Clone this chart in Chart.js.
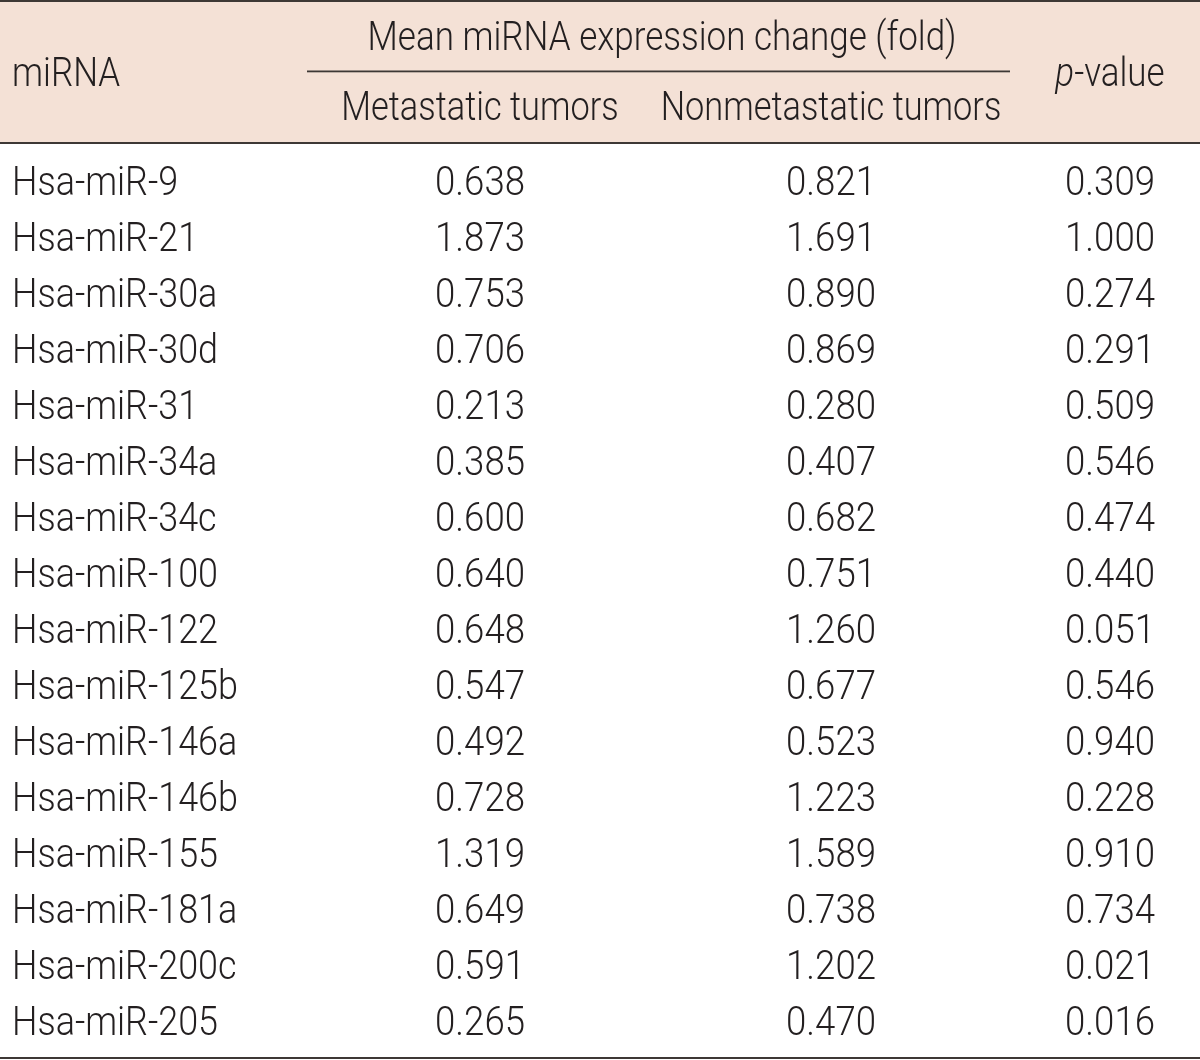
<!DOCTYPE html>
<html>
<head>
<meta charset="utf-8">
<script src="https://cdn.jsdelivr.net/npm/chart.js@4/dist/chart.umd.min.js"></script>
<style>
  html, body { margin: 0; padding: 0; background: #ffffff; }
  #wrap { width: 1200px; height: 1060px; position: relative; }
</style>
</head>
<body>
<div id="wrap"><canvas id="c"></canvas></div>
<script>
// ---- Data ----
const mirnas = ["Hsa-miR-9","Hsa-miR-21","Hsa-miR-30a","Hsa-miR-30d","Hsa-miR-31","Hsa-miR-34a","Hsa-miR-34c","Hsa-miR-100","Hsa-miR-122","Hsa-miR-125b","Hsa-miR-146a","Hsa-miR-146b","Hsa-miR-155","Hsa-miR-181a","Hsa-miR-200c","Hsa-miR-205"];
const metastatic = [0.638,1.873,0.753,0.706,0.213,0.385,0.600,0.640,0.648,0.547,0.492,0.728,1.319,0.649,0.591,0.265];
const nonmetastatic = [0.821,1.691,0.890,0.869,0.280,0.407,0.682,0.751,1.260,0.677,0.523,1.223,1.589,0.738,1.202,0.470];
const pValues = [0.309,1.000,0.274,0.291,0.509,0.546,0.474,0.440,0.051,0.546,0.940,0.228,0.910,0.734,0.021,0.016];
const headerGroup = "Mean miRNA expression change (fold)";
const headerRow = "miRNA";
const headerMet = "Metastatic tumors";
const headerNon = "Nonmetastatic tumors";
const headerP = "-value";

// ---- Style ----
const FONT = 'Roboto, "Liberation Sans", Arial, sans-serif';
const WEIGHT = '300';
const FS = 40;
const TEXT = '#231f20';
const HEADER_BG = '#f4e1d6';
const RULE = '#3d3835';

function setFont(ctx, italic) {
  ctx.font = (italic ? 'italic ' : '') + WEIGHT + ' ' + FS + 'px ' + FONT;
}
function rawW(ctx, str, italic) {
  ctx.save(); setFont(ctx, italic);
  const w = ctx.measureText(str).width;
  ctx.restore();
  return w;
}
function drawText(ctx, str, x, y, align, italic, sx) {
  ctx.save();
  ctx.translate(x, y);
  ctx.scale(sx, 1);
  setFont(ctx, italic);
  ctx.textAlign = align;
  ctx.textBaseline = 'alphabetic';
  ctx.fillStyle = TEXT;
  ctx.fillText(str, 0, 0);
  ctx.restore();
}

const tablePlugin = {
  id: 'tablePlugin',
  beforeDraw(chart) {
    const ctx = chart.ctx;
    const xs = chart.scales.x;
    const L = xs.getPixelForValue(0), R = xs.getPixelForValue(1200);
    ctx.save();
    ctx.fillStyle = HEADER_BG;
    ctx.fillRect(L, 2, R - L, 141);
    ctx.fillStyle = RULE;
    ctx.fillRect(L, 0, R - L, 2);
    ctx.fillRect(L, 142, R - L, 2);
    ctx.fillRect(L, 1057, R - L, 2);
    ctx.fillRect(xs.getPixelForValue(307), 70.5, xs.getPixelForValue(1010) - xs.getPixelForValue(307), 1.8);
    ctx.restore();
  },
  afterDraw(chart) {
    const ctx = chart.ctx;
    const xs = chart.scales.x, ys = chart.scales.y;
    // horizontal squeeze factors fitted to the reference's text widths
    const sxGroup = 589 / rawW(ctx, headerGroup);
    const sxSub = 618 / (rawW(ctx, headerMet) + rawW(ctx, headerNon));
    const sxHead = sxGroup;
    const sxLabel = 206 / rawW(ctx, "Hsa-miR-205");
    const sxNum = 90 / rawW(ctx, "0.638");

    const colLabel = xs.getPixelForValue(12);
    const colMet = xs.getPixelForValue(480);
    const colNon = xs.getPixelForValue(831);
    const colP = xs.getPixelForValue(1110);
    const half = 14.5;
    drawText(ctx, headerRow, colLabel, 86, 'left', false, sxHead);
    drawText(ctx, headerGroup, xs.getPixelForValue(662), 50, 'center', false, sxGroup);
    drawText(ctx, headerMet, colMet, 120, 'center', false, sxSub);
    drawText(ctx, headerNon, colNon, 120, 'center', false, sxSub);
    const wp = rawW(ctx, 'p', true) * sxHead, wv = rawW(ctx, headerP, false) * sxHead;
    const start = colP - (wp + wv) / 2;
    drawText(ctx, 'p', start, 86, 'left', true, sxHead);
    drawText(ctx, headerP, start + wp, 86, 'left', false, sxHead);
    mirnas.forEach((name, i) => {
      const y = ys.getPixelForValue(i) + half;
      drawText(ctx, name, colLabel, y, 'left', false, sxLabel);
      drawText(ctx, metastatic[i].toFixed(3), colMet, y, 'center', false, sxNum);
      drawText(ctx, nonmetastatic[i].toFixed(3), colNon, y, 'center', false, sxNum);
      drawText(ctx, pValues[i].toFixed(3), colP, y, 'center', false, sxNum);
    });
  }
};

new Chart(document.getElementById('c'), {
  type: 'scatter',
  data: {
    labels: mirnas,
    datasets: [{ data: [], pointRadius: 0 }]
  },
  options: {
    responsive: true,
    maintainAspectRatio: false,
    animation: false,
    devicePixelRatio: 1,
    layout: { padding: { top: 152.5, bottom: 11.5, left: 0, right: 0 } },
    plugins: { legend: { display: false }, tooltip: { enabled: false } },
    scales: {
      x: { type: 'linear', min: 0, max: 1200, display: false },
      y: { type: 'category', labels: mirnas, offset: true, display: false }
    }
  },
  plugins: [tablePlugin]
});
</script>
</body>
</html>
